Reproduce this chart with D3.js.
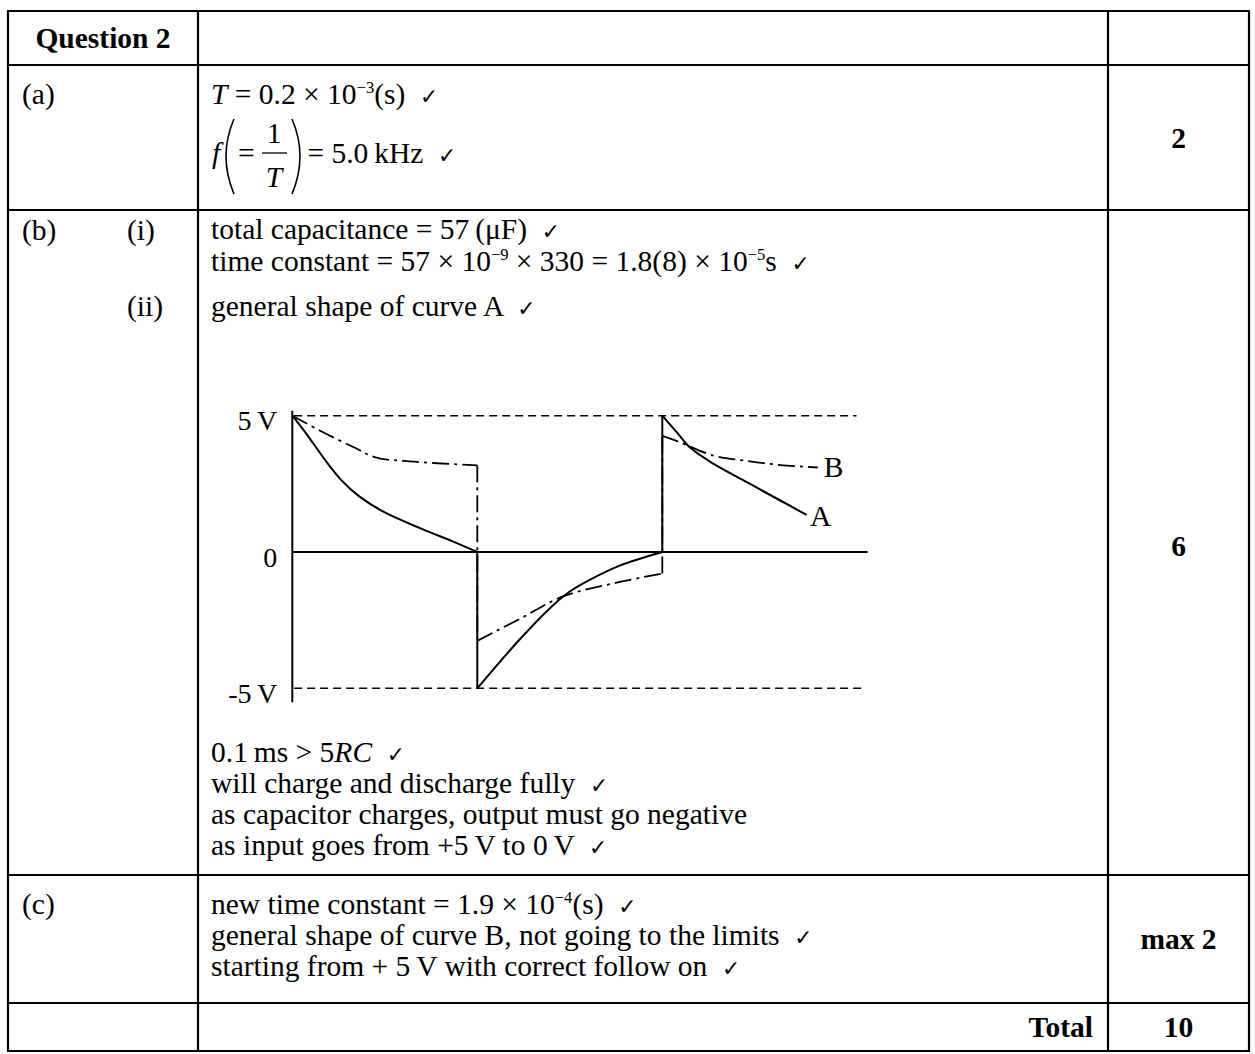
<!DOCTYPE html>
<html>
<head>
<meta charset="utf-8">
<script src="https://cdn.jsdelivr.net/npm/d3@7"></script>
<style>
    body { margin: 0; background: #fff; }
    svg text { font-family: "Liberation Serif", "Times New Roman", serif; fill: #000; white-space: pre; }
</style>
</head>
<body>
<div id="chart"></div>
<script>

// curve A (time in half periods, volts)
const curveA1 = [[0, 5], [0.08, 4.3], [0.18, 3.35], [0.27, 2.6], [0.36, 2.05], [0.5, 1.45], [0.7, 0.85], [0.87, 0.38], [1, 0]];
const curveA2 = [[1, -5], [1.23, -3.2], [1.41, -1.95], [1.5, -1.45], [1.6, -1.05], [1.77, -0.5], [2, 0]];
const curveA3 = [[2, 5], [2.08, 4.38], [2.15, 3.83], [2.28, 3.22], [2.46, 2.55], [2.64, 1.88], [2.78, 1.36]];
// curve B
const curveB1 = [[0, 5], [0.15, 4.45], [0.33, 3.85], [0.45, 3.47], [0.6, 3.34], [1, 3.18]];
const curveB2 = [[1, -3.26], [1.23, -2.45], [1.46, -1.64], [1.77, -1.1], [2, -0.79]];
const curveB3 = [[2, 4.26], [2.08, 4.07], [2.28, 3.53], [2.46, 3.34], [2.64, 3.19], [2.84, 3.1]];
// vertical jumps [time, from, to]
const jumpsA = [[1, 0, -5], [2, 0, 5]];
const jumpsB = [[1, 3.18, -3.26], [2, -0.79, 4.26]];

const levels = [5, 0, -5];
const levelLabels = ["5\u2009V", "0", "-5\u2009V"];
const limitLevels = [5, -5];

const partLabels = ["(a)", "(b)", "(c)"];
const subLabels = ["(i)", "(ii)"];
const marks = ["2", "6", "max 2", "10"];

const CK = "\u2713";
const aLine1 = [["T", "i"], [" = 0.2 × 10"], ["−3", "sup"], ["(s)  "], [CK, "ck"]];
const aLine2 = [[" = 5.0\u2009kHz  "], [CK, "ck"]];
const bLines = [
    [["total capacitance = 57\u2009(μF)  "], [CK, "ck"]],
    [["time constant = 57 × 10"], ["−9", "sup"], [" × 330 = 1.8(8) × 10"], ["−5", "sup"], ["s  "], [CK, "ck"]]
];
const bLine3 = [["general shape of curve A  "], [CK, "ck"]];
const bNotes = [
    [["0.1\u2009ms > 5"], ["RC", "i"], ["  "], [CK, "ck"]],
    [["will charge and discharge fully  "], [CK, "ck"]],
    [["as capacitor charges, output must go negative"]],
    [["as input goes from +5\u2009V to 0\u2009V  "], [CK, "ck"]]
];
const cLines = [
    [["new time constant = 1.9 × 10"], ["−4", "sup"], ["(s)  "], [CK, "ck"]],
    [["general shape of curve B, not going to the limits  "], [CK, "ck"]],
    [["starting from + 5\u2009V with correct follow on  "], [CK, "ck"]]
];

const fontSize = 29.5;
const colX = [8, 198, 1108, 1249];
const rowY = [11, 65, 210, 875, 1003, 1051];

const svg = d3.select("#chart").append("svg")
    .attr("width", 1255)
    .attr("height", 1054);

//Write a line made of runs (plain, italic, superscript, tick)
function richText(x, y, runs, size) {
    let t = svg.append("text").attr("x", x).attr("y", y).style("font-size", size + "px");
    let shift = 0;
    runs.forEach(r => {
        let s = t.append("tspan").text(r[0]);
        let target = 0;
        if (r[1] == "i") s.style("font-style", "italic");
        if (r[1] == "sup") {
            s.style("font-size", (size * 0.56) + "px");
            target = -11;
        }
        if (r[1] == "ck") s.style("font-family", "DejaVu Sans").style("font-size", (size * 0.74) + "px");
        if (target != shift) {
            s.attr("dy", target - shift);
            shift = target;
        }
    });
    return t;
}

//Table grid
rowY.forEach(yy => {
    svg.append("line").attr("x1", colX[0] - 1).attr("x2", colX[3] + 1)
        .attr("y1", yy).attr("y2", yy)
        .style("stroke", "#000").style("stroke-width", 2.2);
});
colX.forEach(xx => {
    svg.append("line").attr("x1", xx).attr("x2", xx)
        .attr("y1", rowY[0]).attr("y2", rowY[rowY.length - 1])
        .style("stroke", "#000").style("stroke-width", 2.2);
});

svg.append("text").attr("x", (colX[0] + colX[1]) / 2).attr("y", 48)
    .style("text-anchor", "middle").style("font-weight", "bold").style("font-size", fontSize + "px")
    .text("Question 2");

//Part labels
const partY = [104, 240, 914];
partLabels.forEach((p, i) => {
    svg.append("text").attr("x", 22).attr("y", partY[i]).style("font-size", fontSize + "px").text(p);
});
svg.append("text").attr("x", 127).attr("y", 240).style("font-size", fontSize + "px").text(subLabels[0]);
svg.append("text").attr("x", 127).attr("y", 316).style("font-size", fontSize + "px").text(subLabels[1]);

//Marks column
const markY = [148, 556, 949, 1037];
marks.forEach((m, i) => {
    svg.append("text").attr("x", (colX[2] + colX[3]) / 2).attr("y", markY[i])
        .style("text-anchor", "middle").style("font-weight", "bold").style("font-size", fontSize + "px")
        .text(m);
});
svg.append("text").attr("x", 1093).attr("y", 1037)
    .style("text-anchor", "end").style("font-weight", "bold").style("font-size", fontSize + "px")
    .text("Total");

//(a)
const tx = 211;
richText(tx, 104, aLine1, fontSize);
svg.append("text").attr("x", tx + 1).attr("y", 163).style("font-size", fontSize + "px").style("font-style", "italic").text("f");
svg.append("path").attr("d", "M234,119 Q218,156 234,194").style("fill", "none").style("stroke", "#000").style("stroke-width", 1.6);
svg.append("text").attr("x", 238).attr("y", 163).style("font-size", fontSize + "px").text("=");
svg.append("text").attr("x", 274).attr("y", 143).style("text-anchor", "middle").style("font-size", fontSize + "px").text("1");
svg.append("line").attr("x1", 262).attr("x2", 287).attr("y1", 153).attr("y2", 153).style("stroke", "#000").style("stroke-width", 1.3);
svg.append("text").attr("x", 274).attr("y", 187).style("text-anchor", "middle").style("font-size", fontSize + "px").style("font-style", "italic").text("T");
svg.append("path").attr("d", "M292,119 Q308,156 292,194").style("fill", "none").style("stroke", "#000").style("stroke-width", 1.6);
richText(300, 163, aLine2, fontSize);

//(b)
bLines.forEach((l, i) => richText(tx, 239 + i * 32, l, fontSize));
richText(tx, 316, bLine3, fontSize);
bNotes.forEach((l, i) => richText(tx, 762 + i * 31, l, fontSize));

//(c)
cLines.forEach((l, i) => richText(tx, 914 + i * 31, l, fontSize));

//Graph
const x = d3.scaleLinear().domain([0, 3]).range([292.3, 847.3]);
const y = d3.scaleLinear().domain([-5, 5]).range([688.3, 415.7]);
const graph = svg.append("g").attr("id", "graph");

graph.append("line").attr("x1", x(0)).attr("x2", x(0))
    .attr("y1", y(5) - 5).attr("y2", y(-5) + 14)
    .style("stroke", "#000").style("stroke-width", 2);
graph.append("line").attr("x1", x(0)).attr("x2", x(3.11))
    .attr("y1", y(0)).attr("y2", y(0))
    .style("stroke", "#000").style("stroke-width", 2);

graph.selectAll(".limit").data(limitLevels).join("line")
    .attr("class", "limit")
    .attr("x1", x(0.01)).attr("x2", d => d > 0 ? x(3.05) : x(3.08))
    .attr("y1", d => y(d)).attr("y2", d => y(d))
    .style("stroke", "#000").style("stroke-width", 1.6).style("stroke-dasharray", "8,5");

let yAxis = d3.axisLeft(y).tickValues(levels).tickFormat((d, i) => levelLabels[i]).tickSize(0).tickPadding(15);
let axisG = graph.append("g").attr("transform", "translate(" + x(0) + ",0)").call(yAxis);
axisG.select(".domain").remove();
axisG.selectAll("text")
    .attr("dy", "0.5em")
    .style("font-family", "'Liberation Serif', serif")
    .style("font-size", "28px");

let lineGenerator = d3.line()
    .x(d => x(d[0]))
    .y(d => y(d[1]))
    .curve(d3.curveCatmullRom.alpha(0.5));

graph.selectAll(".curveA").data([curveA1, curveA2, curveA3]).join("path")
    .attr("class", "curveA")
    .attr("d", d => lineGenerator(d))
    .style("fill", "none").style("stroke", "#000").style("stroke-width", 2);
graph.selectAll(".jumpA").data(jumpsA).join("line")
    .attr("class", "jumpA")
    .attr("x1", d => x(d[0])).attr("x2", d => x(d[0]))
    .attr("y1", d => y(d[1])).attr("y2", d => y(d[2]))
    .style("stroke", "#000").style("stroke-width", 2);

graph.selectAll(".curveB").data([curveB1, curveB2, curveB3]).join("path")
    .attr("class", "curveB")
    .attr("d", d => lineGenerator(d))
    .style("fill", "none").style("stroke", "#000").style("stroke-width", 1.8)
    .style("stroke-dasharray", "17,5,3,5");
graph.selectAll(".jumpB").data(jumpsB).join("line")
    .attr("class", "jumpB")
    .attr("x1", d => x(d[0])).attr("x2", d => x(d[0]))
    .attr("y1", d => y(d[1])).attr("y2", d => y(d[2]))
    .style("stroke", "#000").style("stroke-width", 1.8)
    .style("stroke-dasharray", "17,5,3,5");

//Curve labels at the end of each curve
let endB = curveB3[curveB3.length - 1];
let endA = curveA3[curveA3.length - 1];
graph.append("text").attr("x", x(endB[0]) + 16).attr("y", y(endB[1]) + 10)
    .style("text-anchor", "middle").style("font-size", fontSize + "px").text("B");
graph.append("text").attr("x", x(endA[0]) + 14).attr("y", y(endA[1]) + 11)
    .style("text-anchor", "middle").style("font-size", fontSize + "px").text("A");

</script>
</body>
</html>
